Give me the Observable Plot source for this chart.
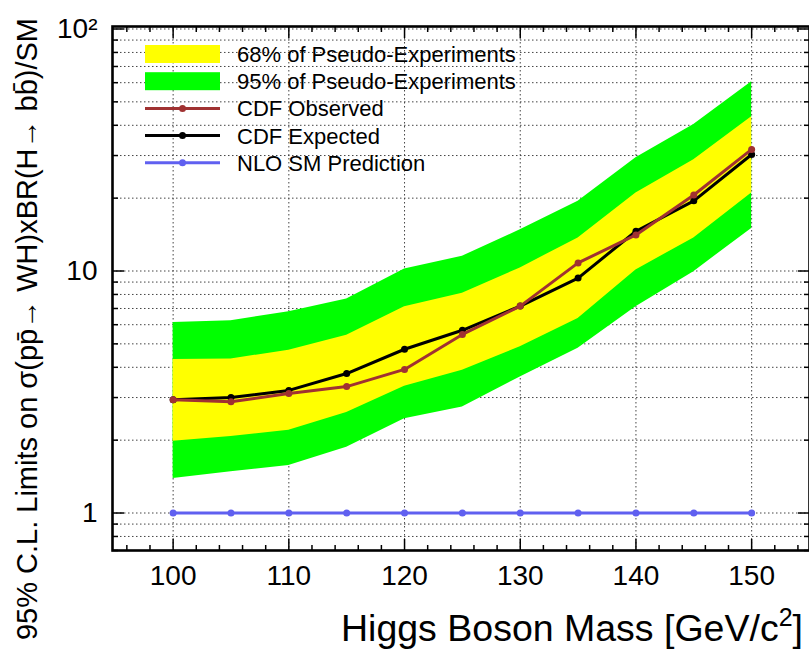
<!DOCTYPE html>
<html>
<head>
<meta charset="utf-8">
<script src="https://cdn.jsdelivr.net/npm/d3@7"></script>
<script src="https://cdn.jsdelivr.net/npm/@observablehq/plot@0.6"></script>
<style>
  html, body { margin: 0; padding: 0; background: #fff; }
  #chart { position: relative; width: 809px; height: 649px; overflow: hidden; }
</style>
</head>
<body>
<div id="chart"></div>
<script>
// ---- data ----
const mass      = [100, 105, 110, 115, 120, 125, 130, 135, 140, 145, 150];
const observed  = [2.94, 2.88, 3.12, 3.33, 3.92, 5.47, 7.16, 10.8, 14.1, 20.6, 31.8];
const expected  = [2.94, 3.00, 3.21, 3.77, 4.75, 5.69, 7.16, 9.35, 14.6, 19.5, 30.3];
const band68Lo  = [1.98, 2.07, 2.20, 2.60, 3.34, 3.89, 4.86, 6.37, 10.1, 13.7, 21.0];
const band68Hi  = [4.31, 4.33, 4.71, 5.43, 7.11, 8.09, 10.3, 13.7, 21.0, 28.8, 43.4];
const band95Lo  = [1.39, 1.48, 1.57, 1.87, 2.45, 2.74, 3.65, 4.79, 7.11, 9.94, 15.0];
const band95Hi  = [6.13, 6.23, 6.78, 7.66, 10.2, 11.5, 14.8, 19.4, 29.4, 40.3, 60.6];
const smPred    = [1, 1, 1, 1, 1, 1, 1, 1, 1, 1, 1];

const xMajorTicks = [100, 110, 120, 130, 140, 150];
const xMinorTicks = [96, 98, 102, 104, 106, 108, 112, 114, 116, 118, 122, 124, 126, 128, 132, 134, 136, 138, 142, 144, 146, 148, 152, 154];
const yMajorTicks = [1, 10, 100];
const yMinorTicks = [0.7, 0.8, 0.9, 2, 3, 4, 5, 6, 7, 8, 9, 20, 30, 40, 50, 60, 70, 80, 90];
const yTickLabels = {1: "1", 10: "10", 100: "10²"};

const legendBands = [
  {label: "68% of Pseudo-Experiments", color: "#ffff00"},
  {label: "95% of Pseudo-Experiments", color: "#00ff00"}
];
const legendLines = [
  {label: "CDF Observed", color: "#a03232"},
  {label: "CDF Expected", color: "#000000"},
  {label: "NLO SM Prediction", color: "#6060f0"}
];

const xTitle = "Higgs Boson Mass [GeV/c";
const xTitleSup = "2";
const yTitle = "95% C.L. Limits on σ(pp\u0304\u2192 WH)xBR(H\u2192 bb\u0304)/SM";

// ---- table for Plot ----
const rows = mass.map((m, i) => ({
  mass: m, obs: observed[i], exp: expected[i],
  lo68: band68Lo[i], hi68: band68Hi[i], lo95: band95Lo[i], hi95: band95Hi[i], sm: smPred[i]
}));

const font = "'Liberation Sans', Arial, Helvetica, sans-serif";
const gridStyle = {stroke: "#444", strokeOpacity: 1, strokeWidth: 1, strokeDasharray: "1.5,2.5"};

const chart = Plot.plot({
  width: 809,
  height: 649,
  marginLeft: 112,
  marginRight: 0,
  marginTop: 26,
  marginBottom: 99,
  style: {fontFamily: font, background: "#fff", color: "#000", overflow: "visible"},
  x: {domain: [94.76, 155]},
  y: {type: "log", domain: [0.70, 102.4]},
  marks: [
    Plot.gridX(xMajorTicks, gridStyle),
    Plot.gridY([...yMajorTicks, ...yMinorTicks], gridStyle),
    Plot.areaY(rows, {x: "mass", y1: "lo95", y2: "hi95", fill: "#00ff00"}),
    Plot.areaY(rows, {x: "mass", y1: "lo68", y2: "hi68", fill: "#ffff00"}),
    Plot.line(rows, {x: "mass", y: "sm", stroke: legendLines[2].color, strokeWidth: 3}),
    Plot.dot(rows, {x: "mass", y: "sm", fill: legendLines[2].color, r: 3.5}),
    Plot.line(rows, {x: "mass", y: "exp", stroke: legendLines[1].color, strokeWidth: 3}),
    Plot.dot(rows, {x: "mass", y: "exp", fill: legendLines[1].color, r: 3.5}),
    Plot.line(rows, {x: "mass", y: "obs", stroke: legendLines[0].color, strokeWidth: 3}),
    Plot.dot(rows, {x: "mass", y: "obs", fill: legendLines[0].color, r: 3.5}),
    Plot.frame({stroke: "#000", strokeWidth: 2.6}),
    // tick marks (inward)
    Plot.axisX(xMajorTicks, {anchor: "bottom", tickSize: -11, fill: "none", label: null, strokeWidth: 1.5}),
    Plot.axisX(xMinorTicks, {anchor: "bottom", tickSize: -5, fill: "none", label: null, strokeWidth: 1.5}),
    Plot.axisX(xMajorTicks, {anchor: "top", tickSize: -11, fill: "none", label: null, strokeWidth: 1.5}),
    Plot.axisX(xMinorTicks, {anchor: "top", tickSize: -5, fill: "none", label: null, strokeWidth: 1.5}),
    Plot.axisY(yMajorTicks, {anchor: "left", tickSize: -12, fill: "none", label: null, strokeWidth: 1.5}),
    Plot.axisY(yMinorTicks, {anchor: "left", tickSize: -6, fill: "none", label: null, strokeWidth: 1.5}),
    Plot.axisY(yMajorTicks, {anchor: "right", tickSize: -12, fill: "none", label: null, strokeWidth: 1.5}),
    Plot.axisY(yMinorTicks, {anchor: "right", tickSize: -6, fill: "none", label: null, strokeWidth: 1.5}),
    // tick labels
    Plot.axisX(xMajorTicks, {anchor: "bottom", tickSize: 0, tickPadding: 15, fontSize: 28, label: null, tickFormat: d => String(d)}),
    Plot.axisY(yMajorTicks, {anchor: "left", tickSize: 0, tickPadding: 15, fontSize: 28, label: null, tickFormat: d => yTickLabels[d]})
  ]
});

const svg = d3.select(chart);

// axis titles
const xt = svg.append("text")
  .attr("x", 803).attr("y", 641)
  .attr("text-anchor", "end")
  .attr("font-family", font)
  .attr("font-size", 37.5)
  .attr("fill", "#000");
xt.append("tspan").text(xTitle);
xt.append("tspan").attr("dy", -15).attr("font-size", 25).text(xTitleSup);
xt.append("tspan").attr("dy", 15).text("]");

svg.append("text")
  .attr("transform", "translate(37,18) rotate(-90)")
  .attr("text-anchor", "end")
  .attr("font-family", font)
  .attr("font-size", 29)
  .attr("textLength", 622)
  .attr("lengthAdjust", "spacingAndGlyphs")
  .attr("fill", "#000")
  .text(yTitle);

// legend
const lg = svg.append("g").attr("font-family", font).attr("font-size", 22).attr("fill", "#000").attr("text-anchor", "start");
const rowH = 27.2, y0 = 54, sx = 145, sw = 75, tx = 237;
legendBands.forEach((d, i) => {
  const cy = y0 + i * rowH;
  lg.append("rect").attr("x", sx).attr("y", cy - 9).attr("width", sw).attr("height", 18).attr("fill", d.color);
  lg.append("text").attr("x", tx).attr("y", cy).attr("dy", "0.36em").text(d.label);
});
legendLines.forEach((d, j) => {
  const cy = y0 + (j + 2) * rowH;
  lg.append("line").attr("x1", sx).attr("x2", sx + sw).attr("y1", cy).attr("y2", cy).attr("stroke", d.color).attr("stroke-width", 3);
  lg.append("circle").attr("cx", sx + sw / 2).attr("cy", cy).attr("r", 3.5).attr("fill", d.color);
  lg.append("text").attr("x", tx).attr("y", cy).attr("dy", "0.36em").text(d.label);
});

document.getElementById("chart").appendChild(chart);
</script>
</body>
</html>
